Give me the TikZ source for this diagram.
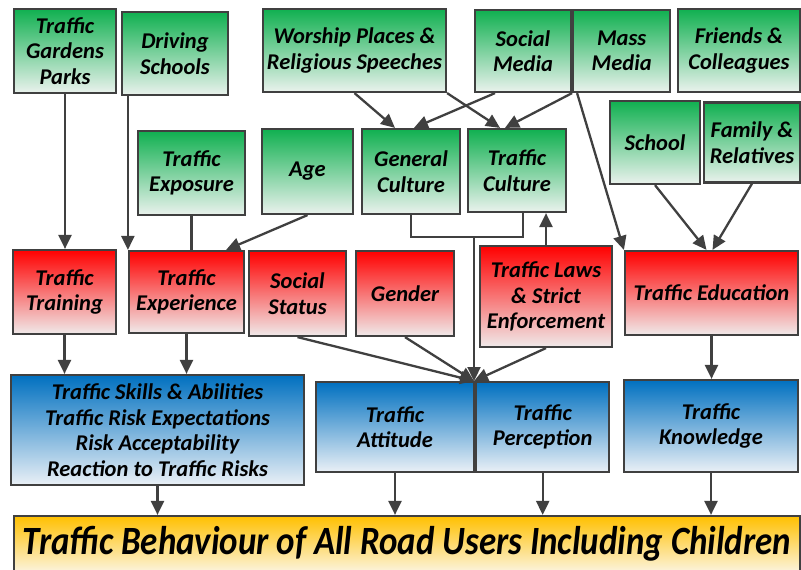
\documentclass[tikz,border=0pt]{standalone}
\usepackage{fontspec}
\setmainfont{Carlito}
\usetikzlibrary{positioning,arrows.meta,calc}

\definecolor{edge}{RGB}{64,64,64}
\definecolor{grtop}{RGB}{16,176,80}
\definecolor{grbot}{RGB}{234,242,237}
\definecolor{rdtop}{RGB}{255,0,0}
\definecolor{rdbot}{RGB}{240,234,234}
\definecolor{bltop}{RGB}{0,112,192}
\definecolor{blbot}{RGB}{234,240,246}
\definecolor{ortop}{RGB}{255,192,0}
\definecolor{orbot}{RGB}{252,244,222}

\begin{document}
\begin{tikzpicture}[
  x=1pt, y=-1pt,
  font=\fontsize{22.5}{25.5}\selectfont\bfseries\itshape,
  box/.style={draw=edge, line width=2.2pt, align=center, inner sep=2pt},
  greenbox/.style={box, top color=grtop, bottom color=grbot},
  redbox/.style={box, top color=rdtop, bottom color=rdbot},
  bluebox/.style={box, top color=bltop, bottom color=blbot},
  goldbox/.style={box, top color=ortop, bottom color=orbot},
  arr/.style={-{Triangle[length=14pt,width=13pt]}, line width=2.3pt, draw=edge},
  link/.style={line width=2.3pt, draw=edge}
]
\useasboundingbox (0,0) rectangle (801,570);

% sources
\node[greenbox, minimum width=102pt, minimum height=84pt] (gardens) at (65,51) {Traffic\\Gardens\\Parks};
\node[greenbox, minimum width=106pt, minimum height=83pt] (driving) at (175,53.5) {Driving\\Schools};
\node[greenbox, minimum width=183pt, minimum height=83pt] (worship) at (354.5,50.5) {Worship Places \&\\Religious Speeches};
\node[greenbox, minimum width=96pt, minimum height=82pt] (socmedia) at (523,51) {Social\\Media};
\node[greenbox, minimum width=97pt, minimum height=82pt, right=0pt of socmedia] (massmedia) {Mass\\Media};
\node[greenbox, minimum width=122pt, minimum height=83pt] (friends) at (739,50.5) {Friends \&\\Colleagues};

\node[greenbox, minimum width=107pt, minimum height=84pt] (exposure) at (191.5,173) {Traffic\\Exposure};
\node[greenbox, minimum width=91pt, minimum height=85pt] (age) at (307.5,171.5) {Age};
\node[greenbox, minimum width=98pt, minimum height=85pt] (gencult) at (411,171.5) {General\\Culture};
\node[greenbox, minimum width=98pt, minimum height=83pt] (trcult) at (517,170.5) {Traffic\\Culture};
\node[greenbox, minimum width=90pt, minimum height=83pt] (school) at (655,142.5) {School};
\node[greenbox, minimum width=96pt, minimum height=80pt] (family) at (752,142.5) {Family \&\\Relatives};

% factors
\node[redbox, minimum width=103pt, minimum height=84pt] (training) at (64.5,292) {Traffic\\Training};
\node[redbox, minimum width=115pt, minimum height=82pt] (experience) at (186.5,292) {Traffic\\Experience};
\node[redbox, minimum width=97pt, minimum height=85pt] (status) at (297.5,293.5) {Social\\Status};
\node[redbox, minimum width=98pt, minimum height=85pt] (gender) at (405,293.5) {Gender};
\node[redbox, minimum width=132pt, minimum height=101pt] (laws) at (546,296.5) {Traffic Laws\\\& Strict\\Enforcement};
\node[redbox, minimum width=173pt, minimum height=84pt] (education) at (711.5,293) {Traffic Education};

% outcomes
\node[bluebox, minimum width=293pt, minimum height=110pt] (skills) at (157.5,430) {Traffic Skills \& Abilities\\Traffic Risk Expectations\\Risk Acceptability\\Reaction to Traffic Risks};
\node[bluebox, minimum width=158pt, minimum height=90pt] (attitude) at (395,427) {Traffic\\Attitude};
\node[bluebox, minimum width=133pt, minimum height=90pt, right=0pt of attitude] (perception) {Traffic\\Perception};
\node[bluebox, minimum width=174pt, minimum height=92pt] (knowledge) at (711,426) {Traffic\\Knowledge};

\node[goldbox, minimum width=786pt, minimum height=56pt] (behaviour) at (407,544)
  {\resizebox*{768pt}{35pt}{Traffic Behaviour of All Road Users Including Children}};

\coordinate (brace) at (474,237);
\coordinate (jn) at (474,381);

% arrows into the factors
\draw[arr] (gardens.south) -- (gardens.south |- training.north);
\draw[arr] ([xshift=7pt]driving.south west) coordinate (d1) -- (d1 |- experience.north);
\draw[link] (exposure.south) -- (exposure.south |- experience.north);
\draw[arr] (age.south) -- ([xshift=-19pt]experience.north east);
\draw[arr] (worship.south) -- ([xshift=-16pt]gencult.north);
\draw[arr] (worship.south east) -- ([xshift=-17pt]trcult.north);
\draw[arr] ([xshift=-28pt]socmedia.south) -- ([xshift=3pt]gencult.north);
\draw[arr] (massmedia.south west) -- ([xshift=-12pt]trcult.north);
\draw[arr] ([xshift=5pt]massmedia.south west) -- (education.north west);
\draw[arr] (school.south) -- ([xshift=-5pt]education.north);
\draw[arr] (family.south) -- ([xshift=1pt]education.north);
\draw[arr] (laws.north) -- (laws.north |- trcult.south);

% culture bracket and the shared junction
\draw[link] (gencult.south) |- (brace) -| ([xshift=6pt]trcult.south);
\draw[arr] (brace) -- (jn);
\draw[arr] (status.south) -- (jn);
\draw[arr] (gender.south) -- (jn);
\draw[arr] (laws.south) -- (jn);

% arrows into the outcomes
\draw[arr] (training.south) -- (training.south |- skills.north);
\draw[arr] (experience.south) -- (experience.south |- skills.north);
\draw[arr] (education.south) -- (education.south |- knowledge.north);

% arrows into behaviour
\draw[arr] (skills.south) -- (skills.south |- behaviour.north);
\draw[arr] (attitude.south) -- (attitude.south |- behaviour.north);
\draw[arr] (perception.south) -- (perception.south |- behaviour.north);
\draw[arr] (knowledge.south) -- (knowledge.south |- behaviour.north);

\end{tikzpicture}
\end{document}
